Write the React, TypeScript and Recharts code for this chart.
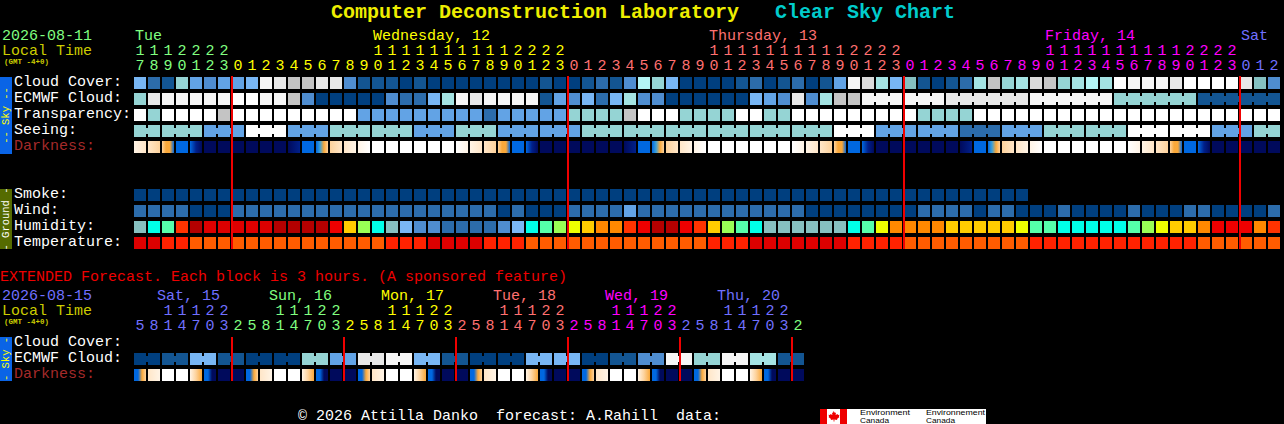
import { Scatter, ScatterChart, XAxis, YAxis } from 'recharts';

const MONO = '"Liberation Mono", monospace';
const CELL = 12;

// cloud, ecmwf, transparency, seeing, smoke and wind share one colour scale
const skyColors = [
  '#003f7f', '#135592', '#2c6cab', '#4f8dd0', '#62a3e5', '#78b6f4', '#95d4d4', '#a4e3e3',
  '#b4f6f6', '#ffffff', '#f6f6f6', '#e8e8e8', '#dadada', '#c4c4c4', '#85c1c1',
];
const humidityColors = [
  '#b30000', '#dd0000', '#ee0000', '#ff3300', '#ff8800', '#ffcc00', '#eeff00',
  '#99ff55', '#55ffaa', '#00ffe8', '#86c0c0', '#7ab7f5', '#4f8dd0', '#2c6cab',
];
const temperatureColors = ['#dd0000', '#ff2200', '#ff5c00'];
const darknessColors = [
  '#ffffff', '#fff4e6', '#ffe6c8', '#fdd29c', '#f9a83a', '#3ba0d8', '#0068e0', '#00208a', '#000a5c',
];
const dayColors = ['#80ff80', '#ffff00', '#ff7070', '#ff00ff', '#7070ff'];

const rowLabels = [
  'Cloud Cover:', 'ECMWF Cloud:', 'Transparency:', 'Seeing:', 'Darkness:', '', '',
  'Smoke:', 'Wind:', 'Humidity:', 'Temperature:',
];
const extendedLabels = ['Cloud Cover:', 'ECMWF Cloud:', 'Darkness:'];

const hours = [
  17, 18, 19, 20, 21, 22, 23,
  0, 1, 2, 3, 4, 5, 6, 7, 8, 9, 10, 11, 12, 13, 14, 15, 16, 17, 18, 19, 20, 21, 22, 23,
  0, 1, 2, 3, 4, 5, 6, 7, 8, 9, 10, 11, 12, 13, 14, 15, 16, 17, 18, 19, 20, 21, 22, 23,
  0, 1, 2, 3, 4, 5, 6, 7, 8, 9, 10, 11, 12, 13, 14, 15, 16, 17, 18, 19, 20, 21, 22, 23,
  0, 1, 2,
];
const hourDayStarts = [0, 7, 31, 55, 79];
const dayNames = ['Tue', 'Wednesday, 12', 'Thursday, 13', 'Friday, 14', 'Sat'];
const dayNameColumns = [0, 17, 41, 65, 79];
const midnights = [7, 31, 55, 79];

const cloudCover = [
  5, 2, 1, 6, 4, 3, 4, 4, 5, 10, 11, 13, 13, 11, 11, 3, 1, 1, 1, 0, 1,
  0, 0, 0, 0, 0, 0, 0, 0, 1, 0, 0, 1, 2, 1, 3, 8, 6, 5, 0, 0, 0, 0, 1, 2, 0, 1, 2, 0, 1, 4, 10,
  12, 7, 5, 14, 1, 0, 1, 2, 7, 13, 6, 7, 12, 13, 6, 7, 8, 7, 9, 10, 10, 10, 11, 9, 9, 9, 9, 11, 14, 3,
];
const ecmwfCloud = [
  6, 11, 10, 10, 10, 10, 10, 9, 9, 10, 10, 13, 3, 0, 0, 0, 0, 0, 3, 2, 2,
  5, 7, 10, 11, 10, 10, 10, 10, 1, 4, 3, 5, 2, 5, 7, 3, 3, 0, 0, 0, 0, 0, 0, 5, 4, 3, 11, 3, 7, 13, 13,
  10, 10, 11, 10, 6, 1,
];
const ecmwfBlocks = [
  1, 1, 1, 1, 1, 1, 1, 1, 1, 1, 1, 1, 1, 1, 1, 1, 1, 1, 1, 1, 1,
  1, 1, 1, 1, 1, 1, 1, 1, 1, 1, 1, 1, 1, 1, 1, 1, 1, 1, 1, 1, 1, 1, 1, 1, 1, 1, 1, 1, 1, 1, 1,
  3, 3, 6, 6, 6, 6,
];
const transparency = [
  9, 6, 9, 9, 9, 9, 13, 9, 9, 9, 9, 9, 9, 9, 9, 9, 4, 4, 4, 4, 4,
  4, 4, 4, 4, 2, 4, 4, 4, 4, 4, 6, 6, 6, 6, 13, 9, 9, 9, 6, 6, 6, 6, 9, 9, 6, 6, 9, 9, 9, 9, 9,
  9, 9, 9, 9, 6, 6, 6, 6, 9, 9, 9, 9, 9, 9, 9, 9, 9, 9, 9, 9, 9, 9, 9, 9, 9, 9, 9, 9, 9, 9,
];
const seeing = [
  6, 6, 4, 9, 4, 6, 6, 4, 6, 4, 4, 6, 6, 6, 6, 6, 6, 9, 4, 4, 2, 4, 6, 6, 9, 9, 4, 6,
];
const seeingBlocks = [
  2, 3, 3, 3, 3, 3, 3, 3, 3, 3, 3, 3, 3, 3, 3, 3, 3, 3, 3, 3, 3, 3, 3, 3, 3, 3, 3, 2,
];
const darkness = [
  '12', '23', '3446', '6', '678', '8', '8', '8', '8', '8', '8', '87', '6', '6543', '32', '21', '10',
  '0', '0', '0', '0', '0', '0', '01', '12', '23', '3446', '6', '678', '8', '8', '8', '8', '8', '8', '87',
  '6', '6543', '32', '21', '10', '0', '0', '0', '0', '0', '0', '01', '12', '23', '3446', '6', '678',
  '8', '8', '8', '8', '8', '8', '87', '6', '6543', '32', '21', '10', '0', '0', '0', '0', '0', '0',
  '01', '12', '23', '3446', '6', '678', '8', '8', '8', '8', '8',
];
const smoke = [
  0, 0, 0, 0, 0, 0, 0, 0, 0, 0, 0, 0, 0, 0, 0, 0, 0, 0, 0, 0, 0, 0, 0, 0, 0, 0, 0, 0, 0, 0, 0, 0,
  0, 0, 0, 0, 0, 0, 0, 0, 0, 0, 0, 0, 0, 0, 0, 0, 0, 0, 0, 0, 0, 0, 0, 0, 0, 0, 0, 0, 0, 0, 0, 0,
];
const wind = [
  2, 2, 2, 2, 0, 0, 0, 2, 2, 2, 2, 2, 2, 2, 2, 2, 2, 2, 2, 2, 2,
  2, 2, 2, 2, 2, 0, 2, 0, 0, 0, 2, 2, 2, 2, 4, 2, 2, 2, 2, 2, 2, 2, 2, 2, 2, 2, 2, 0, 0, 0,
  0, 0, 0, 0, 0, 2, 2, 2, 2, 0, 2, 2, 0, 0, 0, 2, 0, 0, 0, 0, 2, 0, 0, 0, 2, 2, 0, 0, 0, 0, 2,
];
const humidity = [
  10, 9, 8, 3, 0, 1, 1, 1, 1, 1, 0, 0, 0, 0, 2, 5, 7, 9, 10, 11, 12,
  12, 13, 13, 13, 13, 12, 11, 9, 8, 7, 6, 5, 4, 4, 3, 2, 0, 0, 2, 3, 5, 7, 8, 9, 10, 10, 10, 10, 10, 10, 9,
  8, 6, 4, 4, 4, 4, 5, 5, 5, 5, 5, 6, 8, 8, 9, 9, 9, 9, 9, 8, 7, 6, 5, 5, 4, 2, 2, 2, 4, 3,
];
const temperature = [
  0, 0, 1, 1, 2, 2, 2, 2, 2, 2, 2, 2, 2, 2, 2, 2, 2, 2, 1, 1, 1,
  0, 0, 0, 0, 1, 1, 1, 2, 2, 2, 2, 2, 2, 2, 2, 2, 2, 2, 2, 2, 1, 1, 1, 0, 0, 0, 0, 0, 0, 0, 1,
  1, 1, 1, 2, 2, 2, 2, 2, 2, 2, 2, 2, 1, 1, 1, 1, 1, 1, 1, 1, 1, 1, 1, 1, 2, 2, 2, 2, 2, 2,
];

const extendedHours = [
  5, 8, 11, 14, 17, 20, 23,
  2, 5, 8, 11, 14, 17, 20, 23,
  2, 5, 8, 11, 14, 17, 20, 23,
  2, 5, 8, 11, 14, 17, 20, 23,
  2, 5, 8, 11, 14, 17, 20, 23,
  2, 5, 8, 11, 14, 17, 20, 23,
  2,
];
const extendedDayStarts = [0, 7, 15, 23, 31, 39, 47];
const extendedDayNames = ['Sat, 15', 'Sun, 16', 'Mon, 17', 'Tue, 18', 'Wed, 19', 'Thu, 20'];
const extendedDayColumns = [0, 8, 16, 24, 32, 40];
const extendedDayColors = ['#7070ff', '#80ff80', '#ffff00', '#ff7070', '#ff00ff', '#7070ff', '#80ff80'];
const extendedMidnights = [7, 15, 23, 31, 39, 47];
const extendedEcmwf = [0, 1, 5, 1, 0, 0, 6, 4, 11, 10, 5, 1, 0, 0, 5, 5, 0, 1, 3, 10, 6, 10, 7, 1];
const extendedBlocks = [2, 2, 2, 2, 2, 2, 2, 2, 2, 2, 2, 2, 2, 2, 2, 2, 2, 2, 2, 2, 2, 2, 2, 2];
const extendedDarkness = [
  '6643', '21', '0', '0', '134', '6688', '8', '8',
  '6643', '21', '0', '0', '134', '6688', '8', '8',
  '6643', '21', '0', '0', '134', '6688', '8', '8',
  '6643', '21', '0', '0', '134', '6688', '8', '8',
  '6643', '21', '0', '0', '134', '6688', '8', '8',
  '6643', '21', '0', '0', '134', '6688', '8', '8',
];

interface Point {
  x: number;
  y: number;
  fill: string;
  joined?: boolean;
}

const toPoints = (row: number, values: number[], palette: string[]): Point[] =>
  values.map((v, i) => ({ x: i, y: row, fill: palette[v] }));

// blocks longer than one column are drawn as one piece with small bridges
const toBlockPoints = (row: number, values: number[], blocks: number[]): Point[] => {
  const points: Point[] = [];
  values.forEach((v, b) => {
    for (let k = 0; k < blocks[b]; k++) {
      points.push({ x: points.length, y: row, fill: skyColors[v], joined: k < blocks[b] - 1 });
    }
  });
  return points;
};

const toDarkPoints = (row: number, values: string[]): Point[] =>
  values.map((v, i) => ({
    x: i,
    y: row,
    fill: v.length === 1 ? darknessColors[+v] : `url(#dark${v})`,
  }));

function CellShape(props: any) {
  const { cx, cy, payload } = props;
  return (
    <g shapeRendering="crispEdges">
      <rect x={cx} y={cy - CELL / 2} width={CELL} height={CELL} fill={payload.fill} />
      {payload.joined && <rect x={cx + CELL} y={cy - 3} width={2} height={6} fill={payload.fill} />}
    </g>
  );
}

// a series, not a ReferenceLine: it has to lie on top of the cells
const midnightShape = (height: number) =>
  function MidnightShape({ cx, cy }: any) {
    return <rect x={cx - 1} y={cy - height / 2} width={2} height={height} fill="#f00000" shapeRendering="crispEdges" />;
  };

function DarkGradients({ values }: { values: string[] }) {
  const keys = [...new Set(values)].filter((k) => k.length > 1);
  return (
    <defs>
      {keys.map((k) => (
        <linearGradient key={k} id={`dark${k}`} x1="0" x2="1" y1="0" y2="0">
          {k.split('').map((c, i) => (
            <stop key={i} offset={i / (k.length - 1)} stopColor={darknessColors[+c]} />
          ))}
        </linearGradient>
      ))}
    </defs>
  );
}

const colorAt = (col: number, starts: number[], colors: string[]) => {
  let c = colors[0];
  starts.forEach((s, i) => {
    if (col >= s) c = colors[i];
  });
  return c;
};

const digitTick = (hrs: number[], starts: number[], colors: string[], tens: boolean) =>
  function DigitTick({ x, y, payload }: any) {
    const h = hrs[payload.value];
    return (
      <text
        x={x + CELL / 2}
        y={y + 3}
        textAnchor="middle"
        fontFamily={MONO}
        fontSize={15}
        fill={colorAt(payload.value, starts, colors)}
      >
        {tens ? Math.floor(h / 10) : h % 10}
      </text>
    );
  };

const dayTick = (names: string[], columns: number[], colors: string[], dx: number) =>
  function DayTick({ x, y, payload }: any) {
    const i = columns.indexOf(payload.value);
    return (
      <text x={x + dx} y={y + 3} fontFamily={MONO} fontSize={15} fill={colors[i]}>
        {names[i]}
      </text>
    );
  };

const rowTick = (labels: string[]) =>
  function RowTick({ y, payload }: any) {
    const label = labels[payload.value];
    return (
      <text
        x={14}
        y={y + 3}
        fontFamily={MONO}
        fontSize={15}
        fill={label === 'Darkness:' ? '#a52a2a' : '#ffffff'}
      >
        {label}
      </text>
    );
  };

const columnsOf = (list: unknown[]) => list.map((_, i) => i);

function HeaderAndFooter() {
  const line = (x: number, y: number, text: string, fill: string) => (
    <text x={x} y={y} fontFamily={MONO} fontSize={15} fill={fill} xmlSpace="preserve">
      {text}
    </text>
  );
  const side = (top: number, h: number, bg: string, fill: string, text: string) => (
    <g>
      <rect x={0} y={top} width={12} height={h} fill={bg} />
      <text
        transform={`translate(9 ${top + h / 2}) rotate(-90)`}
        textAnchor="middle"
        fontFamily={MONO}
        fontSize={10.5}
        fill={fill}
        xmlSpace="preserve"
      >
        {text}
      </text>
    </g>
  );
  return (
    <svg width={1284} height={424} style={{ position: 'absolute', left: 0, top: 0 }}>
      <text x={331} y={18} fontFamily={MONO} fontWeight="bold" fontSize={20} fill="#eeee00">
        Computer Deconstruction Laboratory
      </text>
      <text x={775} y={18} fontFamily={MONO} fontWeight="bold" fontSize={20} fill="#00cccc">
        Clear Sky Chart
      </text>
      {line(2, 40, '2026-08-11', '#80ff80')}
      {line(2, 55, 'Local Time', '#cccc00')}
      <text x={4} y={64} fontFamily={MONO} fontWeight="bold" fontSize={7.5} fill="#cccc00">
        (GMT -4+0)
      </text>
      {side(77, 77, '#0a64e6', '#ffff00', '-- Sky --')}
      {side(189, 60, '#556b00', '#ffffff', '- Ground -')}
      {line(0, 281, 'EXTENDED Forecast. Each block is 3 hours. (A sponsored feature)', '#ee0000')}
      {line(2, 300, '2026-08-15', '#7070ff')}
      {line(2, 315, 'Local Time', '#cccc00')}
      <text x={4} y={324} fontFamily={MONO} fontWeight="bold" fontSize={7.5} fill="#cccc00">
        (GMT -4+0)
      </text>
      {side(337, 44, '#0a64e6', '#ffff00', '- Sky -')}
      {line(298, 419.5, '© 2026 Attilla Danko  forecast: A.Rahill  data:', '#ffffff')}
      <g>
        <rect x={820} y={409} width={166} height={15} fill="#ffffff" />
        <rect x={820} y={409} width={7} height={15} fill="#ee0000" />
        <rect x={840} y={409} width={7} height={15} fill="#ee0000" />
        <path
          d="M833.5 411l1.5 2 1-.5-.4 2.5 1.9-1 .5 1 1.5-.3-.6 1.8 .6.6-2.5 1.8.3 1-2.9-.3v2h-.8v-2l-2.9.3.3-1-2.5-1.8.6-.6-.6-1.8 1.5.3.5-1 1.9 1-.4-2.5 1 .5z"
          fill="#ee0000"
        />
        <g fontFamily='"Liberation Sans", sans-serif' fontSize={7} fill="#000000">
          <text x={860} y={415} textLength={50} lengthAdjust="spacingAndGlyphs">Environment</text>
          <text x={860} y={422.8} textLength={29} lengthAdjust="spacingAndGlyphs">Canada</text>
          <text x={926} y={415} textLength={59} lengthAdjust="spacingAndGlyphs">Environnement</text>
          <text x={926} y={422.8} textLength={29} lengthAdjust="spacingAndGlyphs">Canada</text>
        </g>
      </g>
    </svg>
  );
}

function MainChart() {
  const tens = columnsOf(hours).filter((i) => hours[i] >= 10);
  const rows = [
    toPoints(0, cloudCover, skyColors),
    toBlockPoints(1, ecmwfCloud, ecmwfBlocks),
    toPoints(2, transparency, skyColors),
    toBlockPoints(3, seeing, seeingBlocks),
    toDarkPoints(4, darkness),
    toPoints(7, smoke, skyColors),
    toPoints(8, wind, skyColors),
    toPoints(9, humidity, humidityColors),
    toPoints(10, temperature, temperatureColors),
  ];
  const axis = {
    type: 'number' as const,
    domain: [0, 82],
    allowDataOverflow: true,
    orientation: 'top' as const,
    height: 15,
    interval: 0 as const,
    axisLine: false,
    tickLine: false,
  };
  return (
    <div style={{ position: 'absolute', left: 0, top: 0 }}>
      <ScatterChart width={1284} height={424} margin={{ top: 30, right: 2, bottom: 173, left: 0 }}>
        <DarkGradients values={darkness} />
        <XAxis {...axis} dataKey="x" ticks={columnsOf(hours)} tick={digitTick(hours, hourDayStarts, dayColors, false)} />
        <XAxis {...axis} dataKey="x" xAxisId="tens" ticks={tens} tick={digitTick(hours, hourDayStarts, dayColors, true)} />
        <XAxis {...axis} dataKey="x" xAxisId="weekdays" ticks={dayNameColumns} tick={dayTick(dayNames, dayNameColumns, dayColors, 1)} />
        <YAxis
          type="number"
          dataKey="y"
          domain={[-0.5, 10.5]}
          reversed
          width={134}
          interval={0}
          ticks={columnsOf(rowLabels).filter((i) => rowLabels[i])}
          axisLine={false}
          tickLine={false}
          tick={rowTick(rowLabels)}
        />
        <Scatter xAxisId="tens" data={[]} isAnimationActive={false} />
        <Scatter xAxisId="weekdays" data={[]} isAnimationActive={false} />
        {rows.map((data, i) => (
          <Scatter key={i} data={data} shape={CellShape} isAnimationActive={false} />
        ))}
        <Scatter
          data={midnights.map((m) => ({ x: m, y: 4.96875 }))}
          shape={midnightShape(173)}
          isAnimationActive={false}
        />
      </ScatterChart>
    </div>
  );
}

function ExtendedChart() {
  const tens = columnsOf(extendedHours).filter((i) => extendedHours[i] >= 10);
  const axis = {
    type: 'number' as const,
    domain: [0, 48],
    allowDataOverflow: true,
    orientation: 'top' as const,
    height: 15,
    interval: 0 as const,
    axisLine: false,
    tickLine: false,
  };
  return (
    <div style={{ position: 'absolute', left: 0, top: 0 }}>
      <ScatterChart width={1284} height={424} margin={{ top: 290, right: 478, bottom: 41, left: 0 }}>
        <DarkGradients values={extendedDarkness} />
        <XAxis {...axis} dataKey="x" ticks={columnsOf(extendedHours)} tick={digitTick(extendedHours, extendedDayStarts, extendedDayColors, false)} />
        <XAxis {...axis} dataKey="x" xAxisId="tens" ticks={tens} tick={digitTick(extendedHours, extendedDayStarts, extendedDayColors, true)} />
        <XAxis {...axis} dataKey="x" xAxisId="weekdays" ticks={extendedDayColumns} tick={dayTick(extendedDayNames, extendedDayColumns, extendedDayColors, 23)} />
        <YAxis
          type="number"
          dataKey="y"
          domain={[-0.5, 2.5]}
          reversed
          width={134}
          interval={0}
          ticks={columnsOf(extendedLabels)}
          axisLine={false}
          tickLine={false}
          tick={rowTick(extendedLabels)}
        />
        <Scatter xAxisId="tens" data={[]} isAnimationActive={false} />
        <Scatter xAxisId="weekdays" data={[]} isAnimationActive={false} />
        <Scatter data={toBlockPoints(1, extendedEcmwf, extendedBlocks)} shape={CellShape} isAnimationActive={false} />
        <Scatter data={toDarkPoints(2, extendedDarkness)} shape={CellShape} isAnimationActive={false} />
        <Scatter
          data={extendedMidnights.map((m) => ({ x: m, y: 1 }))}
          shape={midnightShape(44)}
          isAnimationActive={false}
        />
      </ScatterChart>
    </div>
  );
}

export default function App() {
  return (
    <div style={{ position: 'absolute', left: 0, top: 0, width: 1284, height: 424, background: '#000', overflow: 'hidden' }}>
      <HeaderAndFooter />
      <MainChart />
      <ExtendedChart />
    </div>
  );
}
